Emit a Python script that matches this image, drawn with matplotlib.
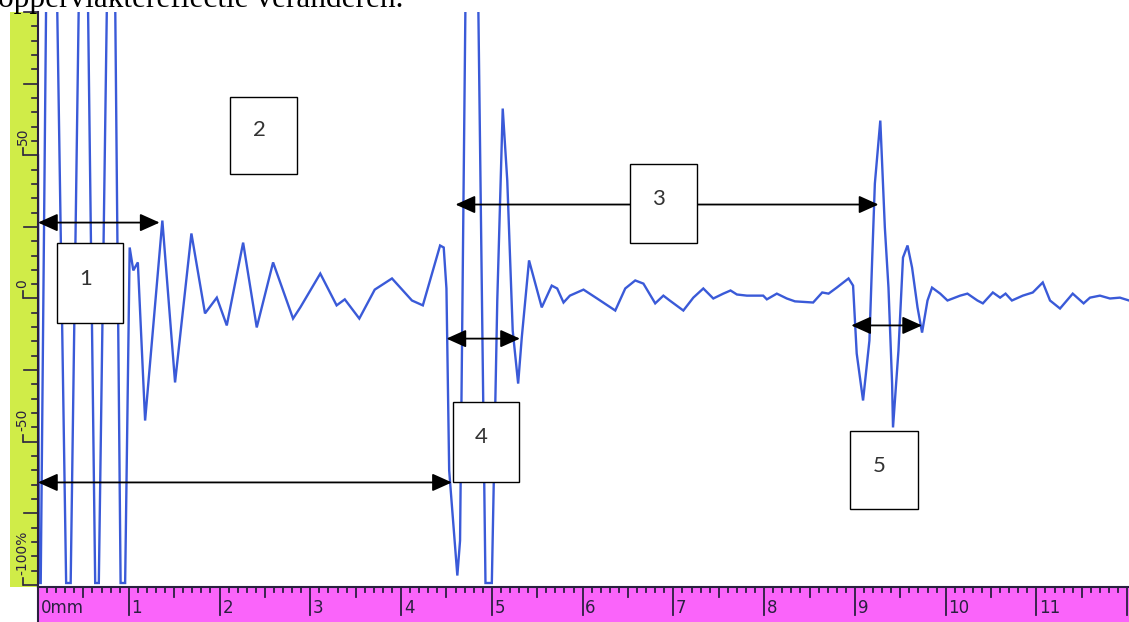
import matplotlib
matplotlib.use("Agg")
import matplotlib.pyplot as plt
from matplotlib.patches import Rectangle
import matplotlib.transforms as mtransforms
import numpy as np

# ---------------- data (depth in mm, amplitude in % screen height) ----------------
depth_mm = [
    0.00, 0.01, 0.03, 0.09, 0.21, 0.31, 0.36, 0.45, 0.55, 0.63, 0.67, 0.76, 0.85, 0.91, 0.96,
    1.01, 1.05, 1.10, 1.18, 1.37, 1.51, 1.69, 1.84, 1.97, 2.08, 2.26, 2.41, 2.59, 2.81, 2.89,
    3.11, 3.29, 3.38, 3.54, 3.71, 3.90, 4.12, 4.24, 4.43, 4.47, 4.50,
    4.53, 4.62, 4.65, 4.71, 4.85, 4.93, 5.00, 5.06, 5.12, 5.17, 5.23, 5.29, 5.33, 5.41, 5.55,
    5.66, 5.72, 5.79, 5.86, 6.01, 6.16, 6.36, 6.47, 6.58, 6.67, 6.80, 6.89, 6.96, 7.11, 7.22,
    7.33, 7.44, 7.55, 7.63, 7.70, 7.81, 7.99, 8.03, 8.14, 8.25, 8.34, 8.54, 8.64, 8.71, 8.80,
    8.93, 8.98,
    9.02, 9.09, 9.16, 9.19, 9.22, 9.28, 9.33, 9.37, 9.41, 9.42, 9.48, 9.53, 9.58, 9.63, 9.69,
    9.74, 9.80, 9.85, 9.94, 10.02, 10.16, 10.24, 10.35, 10.41, 10.52, 10.60, 10.66, 10.73,
    10.85, 10.96, 11.07, 11.15, 11.26, 11.40, 11.52, 11.59, 11.70, 11.81, 11.92, 12.02,
]
amplitude_pct = [
    50.0, -99.3, -99.3, 105, 105, -99.3, -99.3, 105, 105, -99.3, -99.3, 105, 105, -99.3, -99.3,
    17.8, 9.8, 12.6, -42.6, 27.2, -29.3, 22.7, -5.2, 0.3, -9.4, 19.5, -10.1, 12.6, -7.0, -3.1,
    8.7, -2.4, -0.3, -7.0, 3.1, 7.0, -0.7, -2.4, 18.5, 17.8, 3.5,
    -60.0, -96.7, -84.5, 105, 105, -99.3, -99.3, -0.7, 66.3, 41.2, -11.2, -29.7, -13.6, 13.3, -3.1,
    4.5, 3.5, -1.4, 1.0, 3.1, 0.0, -4.2, 3.5, 6.3, 5.2, -1.7, 1.0, -0.7, -4.2, 0.3,
    3.5, 0.0, 1.7, 2.8, 1.4, 1.0, 1.0, -0.3, 1.7, 0.0, -1.0, -1.4, 2.1, 1.7, 3.8,
    7.0, 4.5,
    -19.2, -35.6, -14.7, 13.3, 40.1, 62.1, 24.8, 3.8, -29.7, -45.0, -18.2, 14.3, 18.5, 10.8, -3.1,
    -11.9, -0.7, 3.8, 1.7, -0.7, 1.0, 1.7, -0.7, -1.7, 2.1, 0.3, 1.7, -0.7,
    1.0, 2.1, 5.6, -0.7, -3.5, 1.7, -1.7, 0.3, 1.0, 0.0, 0.3, -0.7,
]

x_tick_labels = ["0mm", "1", "2", "3", "4", "5", "6", "7", "8", "9", "10", "11"]
y_tick_values = [50, 0, -50, -100]
y_tick_labels = ["50", "0", "-50", "-100%"]

# annotation boxes: label, x range (mm), top / bottom (%)
box_labels = ["1", "2", "3", "4", "5"]
box_x0 = [0.21, 2.12, 6.52, 4.57, 8.95]
box_x1 = [0.94, 2.85, 7.26, 5.30, 9.69]
box_ytop = [19.2, 70.5, 47.1, -36.3, -46.4]
box_ybot = [-8.7, 43.6, 19.2, -63.9, -73.6]

# double-headed arrows: x start, x end (mm), level (%)
arrow_x0 = [0.00, 0.00, 4.60, 4.50, 8.96]
arrow_x1 = [1.34, 4.56, 9.26, 5.31, 9.74]
arrow_y = [26.5, -64.2, 32.8, -14.0, -9.4]

# ---------------- layout ----------------
W, H = 1129, 622
fig = plt.figure(figsize=(W / 100, H / 100), dpi=100)
fig.patch.set_facecolor("white")


def rect(x0, y0, x1, y1):
    return [x0 / W, 1 - y1 / H, (x1 - x0) / W, (y1 - y0) / H]


XMAX = 12.02
YELLOW = "#d0ec48"
MAGENTA = "#fa64fa"
DARK = "#2a2040"
BLUE = "#3a5ad8"

# main plot
ax = fig.add_axes(rect(38, 12, 1129, 585))
ax.set_xlim(0, XMAX)
ax.set_ylim(-100, 100)
ax.set_axis_off()
ax.plot(depth_mm, amplitude_pct, color=BLUE, lw=1.7, solid_joinstyle="miter", zorder=2)

for x0, x1, y in zip(arrow_x0, arrow_x1, arrow_y):
    ax.annotate("", xy=(x1, y), xytext=(x0, y),
                arrowprops=dict(arrowstyle="<|-|>,head_length=0.6,head_width=0.27",
                                color="black", lw=1.3, mutation_scale=20,
                                shrinkA=0, shrinkB=0),
                zorder=4, annotation_clip=False)

for lab, x0, x1, yt, yb in zip(box_labels, box_x0, box_x1, box_ytop, box_ybot):
    ax.add_patch(Rectangle((x0, yb), x1 - x0, yt - yb, facecolor="white",
                           edgecolor="black", lw=1.0, zorder=5))
    ax.text((x0 + x1) / 2 - 0.05, yb + (yt - yb) * 0.56, lab, ha="center", va="center",
            fontsize=16, color="#333333", family="Lato", zorder=6)

# yellow amplitude bar
ay = fig.add_axes(rect(10, 12, 38, 587))
ay.set_facecolor(YELLOW)
ay.set_xlim(0, 1)
ay.set_ylim(-100.7, 100)
for s in ["top", "left", "bottom"]:
    ay.spines[s].set_visible(False)
ay.spines["right"].set_color(DARK)
ay.spines["right"].set_linewidth(1.5)
ay.set_xticks([])
ay.set_yticks([])
tr = mtransforms.blended_transform_factory(ay.transAxes, ay.transData)
for v in np.arange(-100, 101, 5):
    ln = 0.5 if v % 25 == 0 else 0.22
    ay.plot([1 - ln, 1], [v, v], color=DARK, lw=1.2, transform=tr, clip_on=False)
for v, lab in zip(y_tick_values, y_tick_labels):
    ay.plot([0.45, 0.45], [v, v + 2.5], color=DARK, lw=1.2, transform=tr)
    ay.text(0.45, v + 3.6, lab, rotation=90, ha="center", va="bottom", fontsize=10,
            color=DARK, transform=tr, family="DejaVu Sans")

# magenta depth bar
am = fig.add_axes(rect(38, 587, 1129, 622))
am.set_facecolor(MAGENTA)
am.set_xlim(0, XMAX)
am.set_ylim(0, 1)
for s in ["right", "bottom"]:
    am.spines[s].set_visible(False)
am.spines["top"].set_color(DARK)
am.spines["top"].set_linewidth(1.5)
am.spines["left"].set_color(DARK)
am.spines["left"].set_linewidth(1.5)
am.set_xticks([])
am.set_yticks([])
for i in range(0, 121):
    v = i / 10
    if i % 10 == 0:
        ln = 0.8
    elif i % 5 == 0:
        ln = 0.28
    else:
        ln = 0.15
    am.plot([v, v], [1, 1 - ln], color=DARK, lw=1.3, clip_on=False)
for i, lab in enumerate(x_tick_labels):
    am.text(i + 0.03, 0.4, lab, ha="left", va="center", fontsize=12, color=DARK,
            family="DejaVu Sans")

# caption line of the surrounding document, cropped at the top edge as in the source
fig.text(-0.002, 1 - 7 / H, "oppervlaktereflectie veranderen.", ha="left", va="baseline",
         fontsize=22.5, family="Liberation Serif", color="black")

fig.savefig("out.png", dpi=100)
